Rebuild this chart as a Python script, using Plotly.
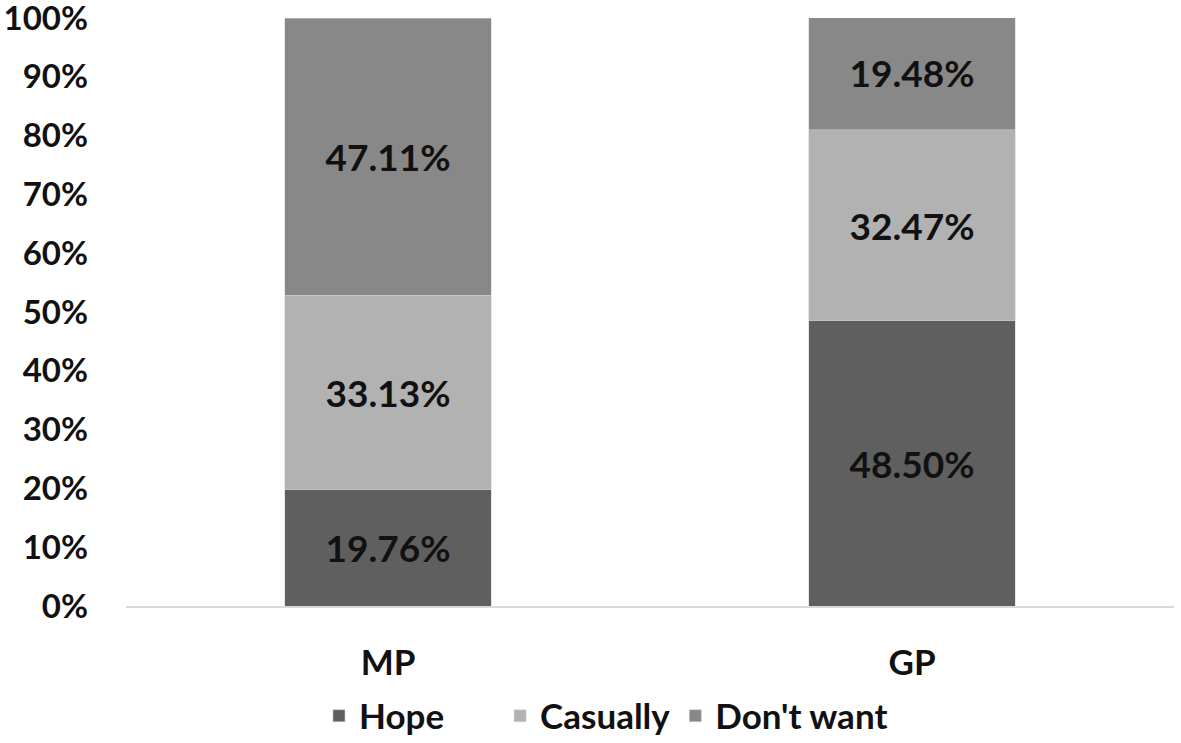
import plotly.graph_objects as go

categories = ["MP", "GP"]
hope = [19.76, 48.50]
casually = [33.13, 32.47]
dont_want = [47.11, 19.48]
y_ticks = [0, 10, 20, 30, 40, 50, 60, 70, 80, 90, 100]
y_tick_labels = [f"{v}%" for v in y_ticks]

FONT = "Lato"
NB = "\u00a0"
series = [
    ("Hope", hope, "#5f5f5f", "Hope" + NB * 6),
    ("Casually", casually, "#b2b2b2", "Casually"),
    ("Don't want", dont_want, "#888888", "Don't want"),
]

fig = go.Figure()
for name, vals, color, legend_label in series:
    fig.add_trace(go.Bar(
        x=categories, y=vals, name=legend_label,
        marker=dict(color=color, line=dict(color="#d0d0d0", width=0.5)),
        width=0.395,
        texttemplate="%{y:.2f}%",
        textposition="inside",
        insidetextanchor="middle",
        textfont=dict(family=FONT, size=37, color="#111111", weight="bold"),
        constraintext="none",
    ))

fig.update_layout(
    barmode="stack",
    width=1181, height=743,
    margin=dict(l=126, r=7, t=18, b=137, autoexpand=False),
    plot_bgcolor="white", paper_bgcolor="white",
    font=dict(family=FONT, size=34, color="#111111", weight="bold"),
    showlegend=True,
    legend=dict(orientation="h", x=0.458, xanchor="center", y=-0.187, yanchor="middle",
                font=dict(family=FONT, size=35, color="#111111", weight="bold"),
                traceorder="normal", itemwidth=30),
    uniformtext=dict(mode=False),
)
fig.update_xaxes(
    showline=True, linecolor="#d9d9d9", linewidth=2,
    showgrid=False, ticks="", ticklabelstandoff=25, automargin=False,
    tickfont=dict(family=FONT, size=35, color="#111111", weight="bold"),
    range=[-0.5, 1.5],
)
fig.update_yaxes(
    range=[0, 100], tickvals=y_ticks, ticktext=y_tick_labels,
    showgrid=False, showline=False, zeroline=False, ticks="",
    ticklabelstandoff=37, automargin=False, ticklabeloverflow="allow",
    tickfont=dict(family=FONT, size=33, color="#111111", weight="bold"),
)

fig.write_html("out.html", config={"displayModeBar": False},
               post_script="document.body.style.margin='0';")
